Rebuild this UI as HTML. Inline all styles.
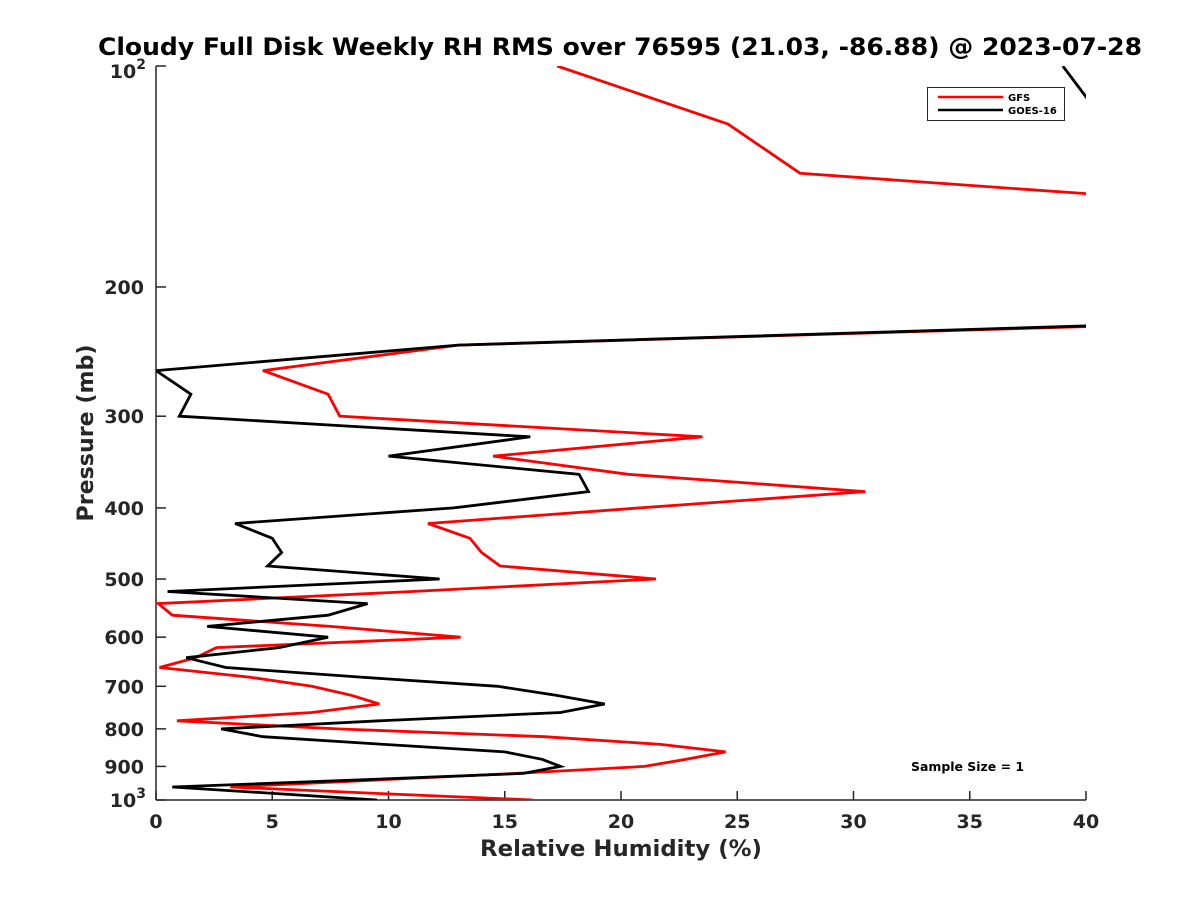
<!DOCTYPE html>
<html><head><meta charset="utf-8"><style>
html,body{margin:0;padding:0;background:#fff;}
svg{display:block;font-family:"DejaVu Sans","Liberation Sans",sans-serif;font-weight:bold;}
</style></head><body>
<svg id="chart" width="1200" height="900" xmlns="http://www.w3.org/2000/svg">
<defs><clipPath id="plotclip"><rect x="156" y="66" width="930" height="734"/></clipPath></defs>
<text x="620" y="55" text-anchor="middle" font-size="24" fill="#000" textLength="1044" lengthAdjust="spacingAndGlyphs">Cloudy Full Disk Weekly RH RMS over 76595 (21.03, -86.88) @ 2023-07-28</text>
<g id="axes"></g>
<g id="series" clip-path="url(#plotclip)"></g>
<text x="621" y="856" text-anchor="middle" font-size="22.5" fill="#262626" textLength="282" lengthAdjust="spacingAndGlyphs">Relative Humidity (%)</text>
<text transform="translate(93,433) rotate(-90)" text-anchor="middle" font-size="22.5" fill="#262626" textLength="177" lengthAdjust="spacingAndGlyphs">Pressure (mb)</text>
<g>
<rect x="927.5" y="87.5" width="137" height="33" fill="#fff" stroke="#262626" stroke-width="1"/>
<line x1="938" y1="97" x2="1003" y2="97" stroke="#ff0000" stroke-width="2.5"/>
<text x="1008" y="101" font-size="10" fill="#000">GFS</text>
<line x1="938" y1="110" x2="1003" y2="110" stroke="#000" stroke-width="2.5"/>
<text x="1008" y="114" font-size="10" fill="#000">GOES-16</text>
</g>
<text x="911" y="771" font-size="12" fill="#000" textLength="113" lengthAdjust="spacingAndGlyphs">Sample Size = 1</text>
</svg>
<script>
const gfsPressure = [100,120,140,150,200,225,240,260,280,300,320,340,360,380,400,420,440,460,480,500,520,540,560,580,600,620,640,660,680,700,720,740,760,780,800,820,840,860,880,900,920,940,960,980,1000];
const gfsRH = [17.25,24.6,27.7,41,70,43,13.0,4.6,7.4,7.9,23.5,14.5,20.3,30.5,20.8,11.7,13.5,14.0,14.8,21.5,11,0.1,0.7,7.5,13.1,2.6,1.7,0.15,4,6.7,8.4,9.6,6.7,0.9,7.8,16.7,21.7,24.5,22.8,21.0,15.5,9.2,3.2,9.7,16.2];
const goesPressure = [100,125,150,200,225,240,260,280,300,320,340,360,380,400,420,440,460,480,500,520,540,560,580,600,620,640,660,680,700,720,740,760,780,800,820,840,860,880,900,920,940,960,980,1000];
const goesRH = [39,41.3,80,80,42,13.0,0.0,1.5,1.0,16.1,10.0,18.2,18.6,12.8,3.4,5.0,5.4,4.8,12.2,0.5,9.1,7.4,2.2,7.4,5.3,1.3,3.0,8.8,14.7,17.2,19.3,17.4,9.6,2.8,4.6,9.8,15.0,16.6,17.4,15.8,8.3,0.7,5.2,9.5];
const xTicks = [0,5,10,15,20,25,30,35,40];
const yTicks = [100,200,300,400,500,600,700,800,900,1000];
const yTickLabels = ["10²","200","300","400","500","600","700","800","900","10³"];

const NS = "http://www.w3.org/2000/svg";
const X0=156, X1=1086, Y0=66, Y1=800;
function xs(v){return X0+(v/40)*(X1-X0);}
function ys(p){return Y0+(Math.log10(p)-2)*(Y1-Y0);}
function mk(tag, attrs, parent){const e=document.createElementNS(NS,tag);for(const k in attrs)e.setAttribute(k,attrs[k]);parent.appendChild(e);return e;}

const axes=document.getElementById('axes');
const yAxis=mk('line',{x1:X0,y1:Y0,x2:X0,y2:Y1,stroke:'#262626','stroke-width':1.5},axes);


const xAxis=mk('line',{x1:X0,y1:Y1,x2:X1,y2:Y1,stroke:'#262626','stroke-width':1.5},axes);


xTicks.forEach(v=>{
  const x=xs(v);
  const t=mk('line',{x1:x,y1:Y1,x2:x,y2:Y1-9,stroke:'#262626','stroke-width':1.5},axes);
  
  
  const l=mk('text',{x:x,y:Y1+28,'text-anchor':'middle','font-size':19,fill:'#262626'},axes);
  l.textContent=String(v);
  
  
});
yTicks.forEach((p,i)=>{
  const y=ys(p);
  const t=mk('line',{x1:X0,y1:y,x2:X0+10,y2:y,stroke:'#262626','stroke-width':1.5},axes);
  
  
  const lab=yTickLabels[i];
  const l=mk('text',{x:X0-12,y:y+7,'text-anchor':'end','font-size':19,fill:'#262626'},axes);
  if(lab.length===3 && (lab[2]==='²'||lab[2]==='³')){
    l.textContent='10';
    const s=mk('tspan',{dy:-9,'font-size':14},l);
    s.textContent=lab[2]==='²'?'2':'3';
    l.setAttribute('x',X0-10);
    if(i===0) l.setAttribute('y',y+12);
  } else l.textContent=lab;
  
  
});

const series=document.getElementById('series');
function drawLine(P,V,color,name){
  const d=P.map((p,i)=>(i?'L':'M')+xs(V[i]).toFixed(1)+','+ys(p).toFixed(1)).join(' ');
  const path=mk('path',{d:d,fill:'none',stroke:color,'stroke-width':2.8,'stroke-linejoin':'miter'},series);
  
  
}
drawLine(gfsPressure,gfsRH,'#ff0000','gfs-line');
drawLine(goesPressure,goesRH,'#000000','goes16-line');
</script>
</body></html>
